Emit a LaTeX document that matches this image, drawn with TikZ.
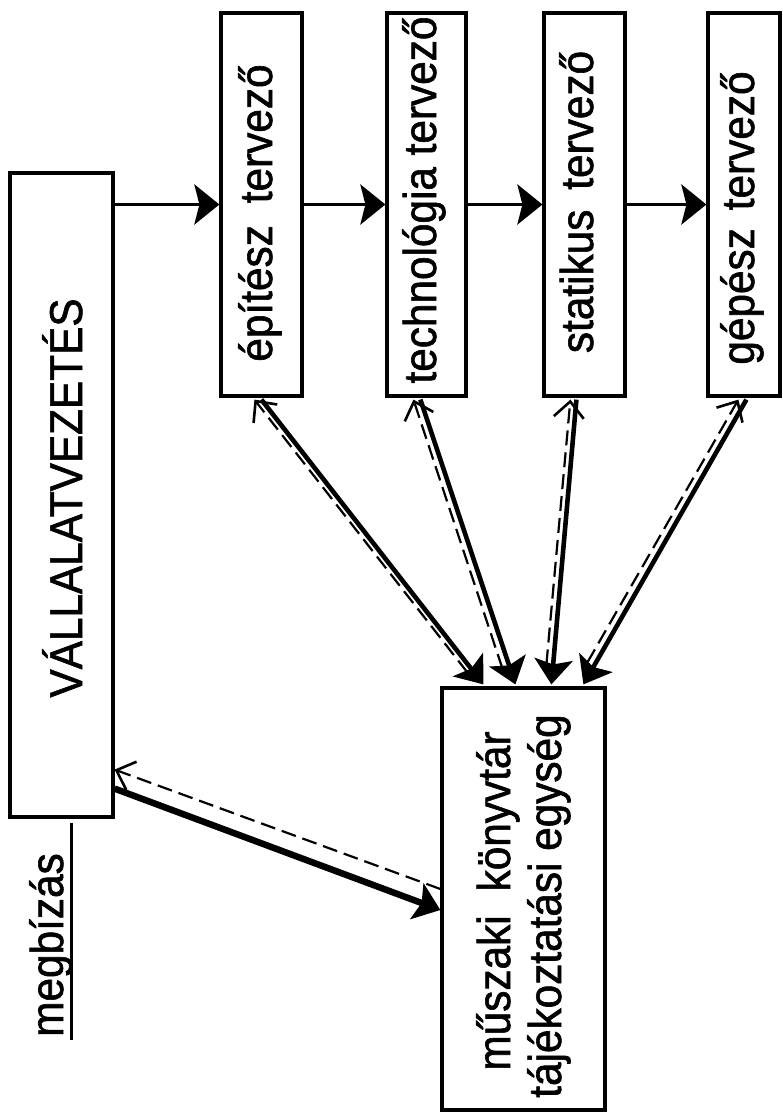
\documentclass[tikz,border=0pt]{standalone}
\usepackage{fontspec}
\setmainfont{Liberation Sans}[FakeStretch=0.92,FakeBold=1.3]
\usetikzlibrary{arrows.meta,calc}
\begin{document}
\begin{tikzpicture}[x=1pt,y=-1pt,
  box/.style={draw, line width=3.2pt, inner sep=0pt},
  lbl/.style={rotate=90, anchor=base, inner sep=0pt, font=\fontsize{46}{50}\selectfont},
  flow/.style={line width=3.8pt, -{Stealth[length=25pt,width=40pt,inset=5pt]}},
  info/.style={line width=4.6pt, -{Stealth[length=25pt,width=38pt,inset=5pt]}},
  back/.style={line width=2.2pt, dash pattern=on 15pt off 7pt, -{Straight Barb[length=16pt,width=30pt,line width=2.6pt]}},
]
\useasboundingbox[fill=white] (0,0) rectangle (783,1114);

% boxes
\node[box, minimum width=103pt, minimum height=644pt] (vv) at (61.5,495) {};
\node[box, minimum width=81pt, minimum height=383pt] (b1) at (261.5,204.5) {};
\node[box, minimum width=79pt, minimum height=383pt] (b2) at (426.5,204.5) {};
\node[box, minimum width=81pt, minimum height=383pt] (b3) at (584.5,204.5) {};
\node[box, minimum width=72pt, minimum height=383pt] (b4) at (744,204.5) {};
\node[box, minimum width=163pt, minimum height=422pt] (mk) at (523.5,899) {};

% labels
\node[lbl] (tv) at (82,498) {VÁLLALATVEZETÉS};
\node[lbl] (t1) at (272,213) {építész\hspace{22pt}tervező};
\node[lbl] (t2) at (436,200) {technológia tervező};
\node[lbl] (t3) at (593,202) {statikus\hspace{20pt}tervező};
\node[lbl] (t4) at (754,218) {gépész\hspace{18pt}tervező};
\node[lbl] (m1) at (510,901) {műszaki\hspace{24pt}könyvtár};
\node[lbl] (m2) at (561,906) {tájékoztatási egység};
\node[lbl] (mg) at (63,945) {megbízás};
\coordinate (ua) at (71,1040);
\coordinate (ub) at (71,823);
\draw[line width=3pt] (ua) -- (ub);

% chain of designers
\draw[flow] (vv.east |- b1.west) -- (b1.west);
\draw[flow] (b1.east) -- (b2.west);
\draw[flow] (b2.east) -- (b3.west);
\draw[flow] (b3.east) -- (b4.west);

% designers -> library
\draw[info] ($(b1.south west)+(42,2)$) -- ($(mk.north west)+(43,-2)$);
\draw[info] ($(b2.south west)+(35,2)$) -- ($(mk.north west)+(75,-2)$);
\draw[info] ($(b3.south west)+(34,2)$) -- ($(mk.north west)+(111,-2)$);
\draw[info] ($(b4.south west)+(40,2)$) -- ($(mk.north west)+(143,-2)$);

% library -> designers (dashed)
\draw[back] ($(mk.north west)+(27,-14)$) -- ($(b1.south west)+(35,2)$);
\draw[back] ($(mk.north west)+(62,-18)$) -- ($(b2.south west)+(28,2)$);
\draw[back] ($(mk.north west)+(106,-22)$) -- ($(b3.south west)+(28,2)$);
\draw[back] ($(mk.north west)+(147,-24)$) -- ($(b4.south west)+(32,2)$);

% management <-> library
\draw[line width=6.5pt, -{Stealth[length=25pt,width=38pt,inset=5pt]}] ($(vv.south east)+(0,-30)$) -- ($(mk.west)+(0,11)$);
\draw[back] ($(mk.west)+(0,-10)$) -- ($(vv.south east)+(0,-49)$);
\end{tikzpicture}
\end{document}
